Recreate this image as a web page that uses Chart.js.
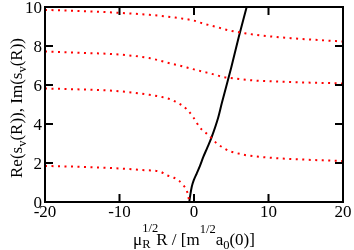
<!DOCTYPE html>
<html>
<head>
<meta charset="utf-8">
<script src="https://cdn.jsdelivr.net/npm/chart.js@4/dist/chart.umd.min.js"></script>
<style>
  html, body { margin: 0; padding: 0; background: #fff; }
  #wrap { position: relative; width: 354px; height: 250px; }
  .ttl, .tick { position: absolute; font-family: "Liberation Serif", "Times New Roman", Times, serif; font-size: 17px; color: #000; white-space: nowrap; line-height: 1; }
  #ytitle { left: 16px; top: 107.5px; transform: translate(-50%, -50%) rotate(-90deg); }
  #xtitle { left: 194px; top: 231px; transform: translateX(-50%); }
  .sub { font-size: 12.5px; position: relative; top: 3.5px; }
  .sup { font-size: 12.5px; position: relative; top: -12px; }
  .stack { display: inline-block; position: relative; width: 14px; height: 1px; vertical-align: baseline; }
  .stack .t { position: absolute; left: 0; top: -22px; font-size: 12.5px; }
  .stack .b { position: absolute; left: 0; top: -6px; font-size: 12.5px; }
  .tick.xt { transform: translateX(-50%); }
  .tick.yt { transform: translateX(-100%); }
</style>
</head>
<body>
<div id="wrap">
  <canvas id="chart" width="354" height="250"></canvas>
  <div class="ttl" id="ytitle">Re(s<span class="sub">v</span>(R)), Im(s<span class="sub">v</span>(R))</div>
  <div class="ttl" id="xtitle">μ<span class="stack"><span class="t">1/2</span><span class="b">R</span></span>R / [m<span class="sup">1/2</span>a<span class="sub">0</span>(0)]</div>
</div>
<script>
// red dotted branches
const curve1X = [-20, -15, -10, -6, -3, 0, 1.25, 3, 4.6, 7.1, 8.8, 13, 20];
const curve1Y = [9.85, 9.79, 9.7, 9.6, 9.48, 9.3, 9.15, 8.98, 8.81, 8.64, 8.55, 8.4, 8.23];

const curve2X = [-20, -15, -10, -6, -3.7, -2, 0, 1.25, 2.8, 3.7, 5.3, 7.1, 8.6, 13, 20];
const curve2Y = [7.72, 7.65, 7.56, 7.38, 7.16, 7.0, 6.8, 6.68, 6.53, 6.43, 6.34, 6.26, 6.22, 6.15, 6.08];

const curve3X = [-20, -15, -10, -6, -4.5, -3, -1.45, -0.8, -0.1, 0.45, 1.05, 1.9, 3.1, 3.9, 4.7, 5.5, 7, 10.6, 15, 20];
const curve3Y = [5.82, 5.77, 5.68, 5.5, 5.4, 5.24, 4.91, 4.69, 4.35, 4.01, 3.71, 3.45, 2.99, 2.79, 2.62, 2.53, 2.4, 2.26, 2.17, 2.1];

const curve4X = [-20, -15, -10, -7, -4.5, -3.7, -2.8, -2.1, -1.45, -1.0, -0.77, -0.65];
const curve4Y = [1.85, 1.8, 1.72, 1.64, 1.55, 1.38, 1.26, 1.12, 0.87, 0.61, 0.31, 0.0];

// black solid branch
const solidX = [-0.63, -0.5, -0.3, 0.0, 0.36, 0.8, 1.25, 1.8, 2.37, 3.26, 3.72, 5.0, 6.0, 7.07];
const solidY = [0.0, 0.35, 0.78, 1.15, 1.46, 1.85, 2.31, 2.8, 3.33, 4.35, 5.05, 6.9, 8.45, 10.0];

const xTicks = [-20, -10, 0, 10, 20];
const yTicks = [0, 2, 4, 6, 8, 10];

function pts(xs, ys) {
    return xs.map((x, i) => ({ x: x, y: ys[i] }));
}

function dotted(xs, ys) {
    return {
        data: pts(xs, ys),
        borderColor: "#ff0000",
        borderWidth: 2,
        borderDash: [2, 4.5],
        pointRadius: 0,
        tension: 0.4,
        cubicInterpolationMode: "monotone",
        showLine: true,
        fill: false
    };
}

// frame + inward ticks on all four sides
const framePlugin = {
    id: "frame",
    afterDraw(chart) {
        const ctx = chart.ctx;
        const a = chart.chartArea;
        const xs = chart.scales.x, ys = chart.scales.y;
        const len = 8;
        ctx.save();
        ctx.strokeStyle = "#000";
        ctx.lineWidth = 2;
        ctx.beginPath();
        xTicks.forEach(v => {
            const px = xs.getPixelForValue(v);
            ctx.moveTo(px, a.bottom); ctx.lineTo(px, a.bottom - len);
            ctx.moveTo(px, a.top); ctx.lineTo(px, a.top + len);
        });
        yTicks.forEach(v => {
            const py = ys.getPixelForValue(v);
            ctx.moveTo(a.left, py); ctx.lineTo(a.left + len, py);
            ctx.moveTo(a.right, py); ctx.lineTo(a.right - len, py);
        });
        ctx.stroke();
        ctx.strokeRect(a.left, a.top, a.right - a.left, a.bottom - a.top);
        ctx.restore();
    }
};

// tick labels as html text, placed from the chart's own scales
function addTickLabels(chart) {
    const wrap = document.getElementById("wrap");
    const a = chart.chartArea;
    xTicks.forEach(v => {
        const d = document.createElement("div");
        d.className = "tick xt";
        d.textContent = String(v);
        d.style.left = chart.scales.x.getPixelForValue(v) + "px";
        d.style.top = (a.bottom + 0.5) + "px";
        wrap.appendChild(d);
    });
    yTicks.forEach(v => {
        const d = document.createElement("div");
        d.className = "tick yt";
        d.textContent = String(v);
        d.style.left = (a.left - 3) + "px";
        d.style.top = (chart.scales.y.getPixelForValue(v) - 8.5) + "px";
        wrap.appendChild(d);
    });
}

const chart = new Chart(document.getElementById("chart").getContext("2d"), {
    type: "scatter",
    data: {
        datasets: [
            dotted(curve1X, curve1Y),
            dotted(curve2X, curve2Y),
            dotted(curve3X, curve3Y),
            dotted(curve4X, curve4Y),
            {
                data: pts(solidX, solidY),
                borderColor: "#000",
                borderWidth: 2,
                pointRadius: 0,
                tension: 0.4,
                cubicInterpolationMode: "monotone",
                showLine: true,
                fill: false
            }
        ]
    },
    options: {
        responsive: false,
        animation: false,
        layout: { padding: { left: 45, right: 11, top: 7, bottom: 48 } },
        plugins: { legend: { display: false }, tooltip: { enabled: false } },
        scales: {
            x: {
                type: "linear",
                min: -20, max: 20,
                grid: { display: false, drawTicks: false },
                border: { display: false },
                ticks: { display: false, stepSize: 10 },
                afterFit(s) { s.height = 0; s.paddingLeft = 0; s.paddingRight = 0; }
            },
            y: {
                min: 0, max: 10,
                grid: { display: false, drawTicks: false },
                border: { display: false },
                ticks: { display: false, stepSize: 2 },
                afterFit(s) { s.width = 0; s.paddingTop = 0; s.paddingBottom = 0; }
            }
        }
    },
    plugins: [framePlugin]
});
addTickLabels(chart);
</script>
</body>
</html>
